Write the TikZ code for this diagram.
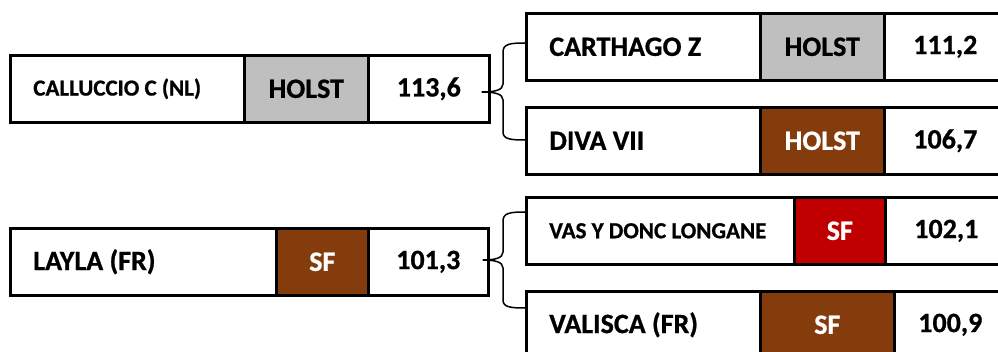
\documentclass[tikz,border=0pt]{standalone}
\usepackage{fontspec}
\setmainfont{Carlito}[BoldFeatures={FakeBold=0.8}]
\definecolor{cgray}{HTML}{BFBFBF}
\definecolor{cbrown}{HTML}{843C0C}
\definecolor{cred}{HTML}{C00000}
\tikzset{
  cell/.style={draw=black, line width=2.6pt, line join=miter, minimum height=67pt, inner sep=0pt, anchor=north west, font=\bfseries\fontsize{28}{30}\selectfont},
  namecell/.style={cell, inner xsep=23pt},
  small/.style={font=\bfseries\fontsize{23}{25}\selectfont},
  graycell/.style={cell, fill=cgray, text=black},
  browncell/.style={cell, fill=cbrown, text=white},
  redcell/.style={cell, fill=cred, text=white},
  bracestyle/.style={draw=black, line width=1.5pt, line join=round}
}
\begin{document}
\begin{tikzpicture}[x=1pt, y=-1pt]
\path[use as bounding box, clip] (0,0) rectangle (998,352);
% row 1 left
\node[namecell, small, minimum width=234pt] (n1) at (9,54) {\makebox[188pt][l]{CALLUCCIO C (NL)}};
\node[graycell, minimum width=124pt] (b1) at (243,54) {HOLST};
\node[cell, minimum width=121pt] (s1) at (367,54) {113,6};
% right upper
\node[namecell, minimum width=234pt] (n2) at (525,12) {\makebox[188pt][l]{CARTHAGO Z}};
\node[graycell, minimum width=124pt] (b2) at (759,12) {HOLST};
\node[cell, minimum width=122pt] (s2) at (883,12) {111,2};
\node[namecell, minimum width=234pt] (n3) at (525,106) {\makebox[188pt][l]{DIVA VII}};
\node[browncell, minimum width=124pt] (b3) at (759,106) {HOLST};
\node[cell, minimum width=122pt] (s3) at (883,106) {106,7};
% row 2 left
\node[namecell, minimum width=266pt] (n4) at (9,227) {\makebox[220pt][l]{LAYLA (FR)}};
\node[browncell, minimum width=92pt] (b4) at (275,227) {SF};
\node[cell, minimum width=120pt] (s4) at (367,227) {101,3};
% right lower
\node[namecell, small, minimum width=268pt] (n5) at (525,196) {\makebox[222pt][l]{VAS Y DONC LONGANE}};
\node[redcell, minimum width=91pt] (b5) at (793,196) {SF};
\node[cell, minimum width=122pt] (s5) at (884,196) {102,1};
\node[namecell, minimum width=234pt] (n6) at (525,290) {\makebox[188pt][l]{VALISCA (FR)}};
\node[browncell, minimum width=134pt] (b6) at (759,290) {SF};
\node[cell, minimum width=112pt] (s6) at (893,290) {100,9};
% braces
\coordinate (t1) at (482,92);
\coordinate (e2) at (n2.west |- 0,43);
\coordinate (e3) at (n3.west |- 0,140);
\draw[bracestyle] (e2) .. controls (510,43) and (503,44) .. (503,52) -- (503,84)
  .. controls (503,90) and (495,92) .. (t1)
  .. controls (495,92) and (503,94) .. (503,100) -- (503,132)
  .. controls (503,139) and (510,140) .. (e3);
\coordinate (t2) at (483,260);
\coordinate (e5) at (n5.west |- 0,212);
\coordinate (e6) at (n6.west |- 0,308);
\draw[bracestyle] (e5) .. controls (510,212) and (503,213) .. (503,221) -- (503,252)
  .. controls (503,258) and (495,260) .. (t2)
  .. controls (495,260) and (503,262) .. (503,268) -- (503,300)
  .. controls (503,307) and (510,308) .. (e6);
\end{tikzpicture}
\end{document}
